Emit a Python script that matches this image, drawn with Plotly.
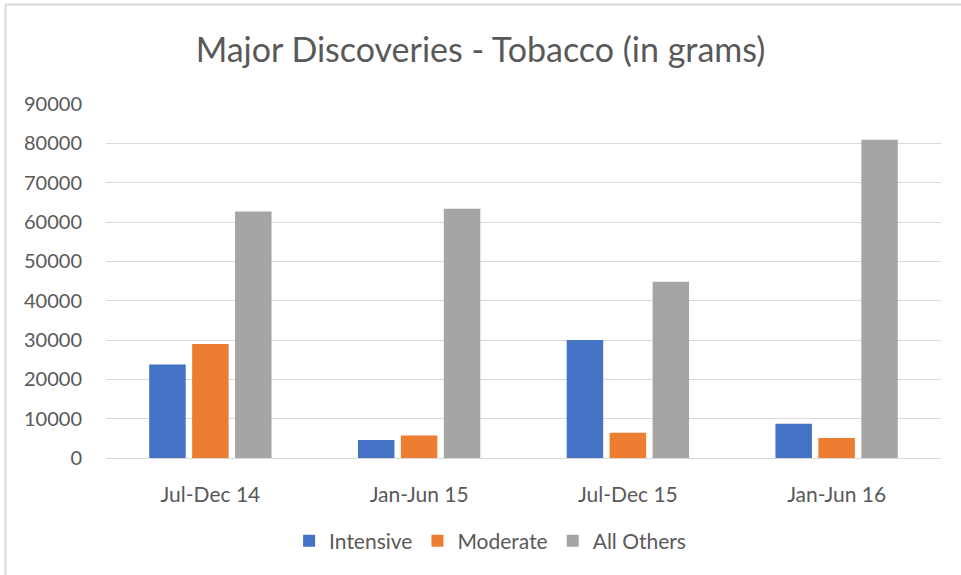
import plotly.graph_objects as go

categories = ["Jul-Dec 14", "Jan-Jun 15", "Jul-Dec 15", "Jan-Jun 16"]
intensive = [23800, 4600, 30000, 8700]
moderate = [29000, 5700, 6400, 5100]
all_others = [62700, 63400, 44800, 80900]
tick_vals = [0, 10000, 20000, 30000, 40000, 50000, 60000, 70000, 80000, 90000]

FONT = "Lato"
TXT = "#595959"

W, H = 961, 575
L, R, T, B = 106, 20, 104, 117
pw, ph = W - L - R, H - T - B

def px_x(x):
    return (x - L) / pw

def px_y(y):
    return (H - B - y) / ph

fig = go.Figure()
for name, vals, col in [("Intensive", intensive, "#4472C4"),
                        ("Moderate", moderate, "#ED7D31"),
                        ("All Others", all_others, "#A5A5A5")]:
    fig.add_trace(go.Bar(x=categories, y=vals, name=name, marker_color=col,
                         marker_line_width=0))

fig.update_layout(
    width=W, height=H,
    margin=dict(l=L, r=R, t=T, b=B),
    paper_bgcolor="white", plot_bgcolor="white",
    barmode="group", bargap=0.383, bargroupgap=0.15,
    font=dict(family=FONT, color=TXT, size=20),
    title=dict(text="Major Discoveries - Tobacco (in grams)", x=0.5, xanchor="center",
               y=1 - 50 / H, yanchor="middle",
               font=dict(family=FONT, size=34, color=TXT)),
    legend=dict(orientation="h", x=0.46, xanchor="center", y=px_y(541), yanchor="middle",
                font=dict(family=FONT, size=21, color=TXT), itemwidth=30,
                traceorder="normal"),
    showlegend=True,
)
fig.update_yaxes(range=[0, 90000], tickvals=tick_vals, ticktext=[str(v) for v in tick_vals],
                 showgrid=True, gridcolor="#D9D9D9", gridwidth=1.3, zeroline=False,
                 showline=False, tickfont=dict(family=FONT, size=20, color=TXT),
                 ticklabelstandoff=23)
fig.update_xaxes(showline=True, linecolor="#D9D9D9", linewidth=1.3, showgrid=False,
                 tickfont=dict(family=FONT, size=21, color=TXT), ticklabelstandoff=18)

# outer chart border (top and left)
fig.add_shape(type="line", xref="paper", yref="paper",
              x0=px_x(5.5), x1=px_x(961), y0=px_y(4.5), y1=px_y(4.5),
              line=dict(color="#D9D9D9", width=2))
fig.add_shape(type="line", xref="paper", yref="paper",
              x0=px_x(5.5), x1=px_x(5.5), y0=px_y(4.5), y1=px_y(575),
              line=dict(color="#D9D9D9", width=2))

fig.write_html("out.html", config={"displayModeBar": False})

with open("out.html", encoding="utf-8") as f:
    html = f.read()
html = html.replace("<body>", '<body style="margin:0;overflow:hidden">', 1)
with open("out.html", "w", encoding="utf-8") as f:
    f.write(html)
